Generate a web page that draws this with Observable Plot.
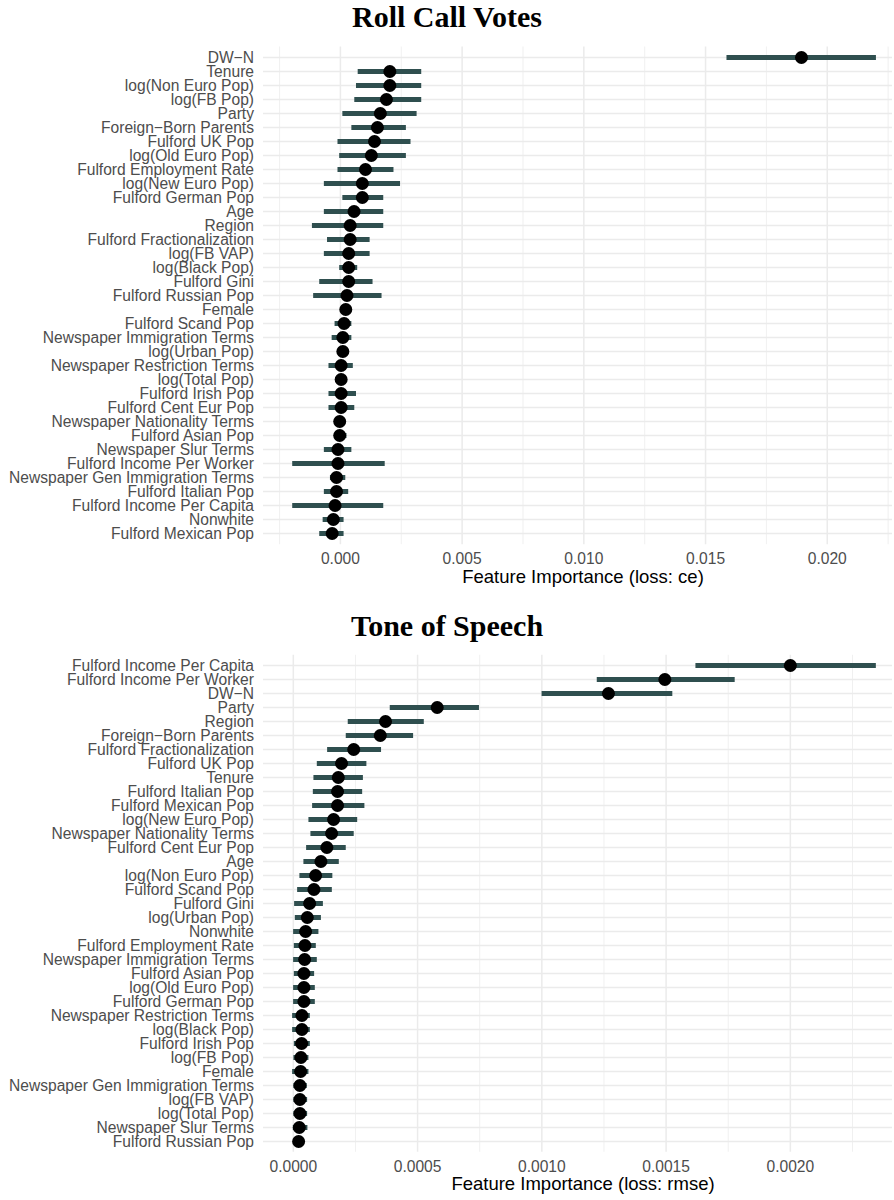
<!DOCTYPE html>
<html>
<head>
<meta charset="utf-8">
<script src="https://cdn.jsdelivr.net/npm/d3@7"></script>
<script src="https://cdn.jsdelivr.net/npm/@observablehq/plot@0.6"></script>
<style>
  html, body { margin: 0; padding: 0; background: #ffffff; }
  #wrap { width: 894px; }
  .title { width: 894px; height: 33px; line-height: 33px; text-align: center;
           font-family: "Liberation Serif", "DejaVu Serif", serif; font-weight: bold;
           font-size: 30px; color: #000; }
  svg { display: block; }
</style>
</head>
<body>
<div id="wrap"></div>
<script>
// ---- Panel 1: Roll Call Votes ----
const rollTitle = "Roll Call Votes";
const rollAxisLabel = "Feature Importance (loss: ce)";
const rollFeatures = ["DW−N","Tenure","log(Non Euro Pop)","log(FB Pop)","Party","Foreign−Born Parents","Fulford UK Pop","log(Old Euro Pop)","Fulford Employment Rate","log(New Euro Pop)","Fulford German Pop","Age","Region","Fulford Fractionalization","log(FB VAP)","log(Black Pop)","Fulford Gini","Fulford Russian Pop","Female","Fulford Scand Pop","Newspaper Immigration Terms","log(Urban Pop)","Newspaper Restriction Terms","log(Total Pop)","Fulford Irish Pop","Fulford Cent Eur Pop","Newspaper Nationality Terms","Fulford Asian Pop","Newspaper Slur Terms","Fulford Income Per Worker","Newspaper Gen Immigration Terms","Fulford Italian Pop","Fulford Income Per Capita","Nonwhite","Fulford Mexican Pop"];
const rollImportance = [0.01894, 0.00203, 0.00203, 0.00189, 0.00164, 0.00152, 0.00140, 0.00127, 0.00103, 0.00090, 0.00090, 0.00056, 0.00040, 0.00040, 0.00034, 0.00034, 0.00034, 0.00027, 0.00022, 0.00015, 0.00010, 0.00010, 0.00003, 0.00003, 0.00003, 0.00003, -0.00003, -0.00003, -0.00010, -0.00010, -0.00016, -0.00016, -0.00022, -0.00029, -0.00034];
const rollLower = [0.01588, 0.00073, 0.00066, 0.00059, 0.00010, 0.00047, -0.00010, -0.00003, -0.00010, -0.00066, 0.00010, -0.00066, -0.00115, -0.00053, -0.00066, -0.00003, -0.00085, -0.00110, 0.00008, -0.00022, -0.00034, -0.00010, -0.00047, -0.00020, -0.00047, -0.00047, -0.00022, -0.00020, -0.00066, -0.00196, -0.00041, -0.00066, -0.00196, -0.00071, -0.00085];
const rollUpper = [0.02202, 0.00334, 0.00334, 0.00334, 0.00315, 0.00271, 0.00290, 0.00271, 0.00220, 0.00247, 0.00178, 0.00178, 0.00178, 0.00122, 0.00122, 0.00071, 0.00134, 0.00171, 0.00035, 0.00047, 0.00047, 0.00027, 0.00053, 0.00025, 0.00066, 0.00059, 0.00022, 0.00027, 0.00047, 0.00184, 0.00022, 0.00034, 0.00178, 0.00015, 0.00015];
const rollTicks = [0, 0.005, 0.010, 0.015, 0.020];
const rollMinorTicks = [-0.0025, 0.0025, 0.0075, 0.0125, 0.0175, 0.0225];
const rollDomain = [-0.00316, 0.02268];

// ---- Panel 2: Tone of Speech ----
const toneTitle = "Tone of Speech";
const toneAxisLabel = "Feature Importance (loss: rmse)";
const toneFeatures = ["Fulford Income Per Capita","Fulford Income Per Worker","DW−N","Party","Region","Foreign−Born Parents","Fulford Fractionalization","Fulford UK Pop","Tenure","Fulford Italian Pop","Fulford Mexican Pop","log(New Euro Pop)","Newspaper Nationality Terms","Fulford Cent Eur Pop","Age","log(Non Euro Pop)","Fulford Scand Pop","Fulford Gini","log(Urban Pop)","Nonwhite","Fulford Employment Rate","Newspaper Immigration Terms","Fulford Asian Pop","log(Old Euro Pop)","Fulford German Pop","Newspaper Restriction Terms","log(Black Pop)","Fulford Irish Pop","log(FB Pop)","Female","Newspaper Gen Immigration Terms","log(FB VAP)","log(Total Pop)","Newspaper Slur Terms","Fulford Russian Pop"];
const toneImportance = [0.002000, 0.001495, 0.001268, 0.000579, 0.000371, 0.000350, 0.000243, 0.000194, 0.000181, 0.000178, 0.000178, 0.000162, 0.000154, 0.000135, 0.000111, 0.0000897, 0.0000829, 0.0000656, 0.0000563, 0.0000495, 0.0000467, 0.0000455, 0.0000426, 0.0000426, 0.0000426, 0.0000346, 0.0000346, 0.0000334, 0.0000306, 0.0000294, 0.0000265, 0.0000265, 0.0000265, 0.0000241, 0.0000213];
const toneLower = [0.001620, 0.001223, 0.001001, 0.000390, 0.000221, 0.000213, 0.000138, 0.0000965, 0.0000829, 0.0000805, 0.0000776, 0.0000628, 0.0000708, 0.0000535, 0.0000426, 0.0000265, 0.0000173, 0.0000052, 0.0000080, 0.0000012, 0.0000040, 0.0000012, 0.0000040, 0.0000012, 0.0000012, -0.0000028, -0.0000028, 0.0000040, 0.0000024, -0.0000028, 0.0000024, 0.0000024, 0.0000024, 0.0000000, 0.0000010];
const toneUpper = [0.002346, 0.001778, 0.001527, 0.000749, 0.000527, 0.000484, 0.000355, 0.000296, 0.000282, 0.000279, 0.000288, 0.000259, 0.000245, 0.000213, 0.000185, 0.000159, 0.000157, 0.000121, 0.000113, 0.000103, 0.0000925, 0.0000965, 0.0000857, 0.0000885, 0.0000885, 0.0000684, 0.0000684, 0.0000684, 0.0000628, 0.0000628, 0.0000563, 0.0000575, 0.0000575, 0.0000587, 0.0000450];
const toneTicks = [0, 0.0005, 0.0010, 0.0015, 0.0020];
const toneMinorTicks = [0.00025, 0.00075, 0.00125, 0.00175, 0.00225];
const toneDomain = [-0.000120, 0.002411];

const grid = "#ebebeb";
const barColor = "#2f4f4f";
const tickColor = "#4d4d4d";

function panel({features, importance, lower, upper, ticks, minor, domain, fmt, label, height, marginTop, marginBottom}) {
  const rows = features.map((f, i) => ({feature: f, v: importance[i], lo: lower[i], hi: upper[i]}));
  return Plot.plot({
    width: 894,
    height,
    marginTop,
    marginBottom,
    marginLeft: 263,
    marginRight: 2,
    style: {fontFamily: "'Liberation Sans', Arial, sans-serif", fontSize: "15.6px", background: "#ffffff", overflow: "visible"},
    x: {domain, ticks, tickFormat: d3.format(fmt), label: null},
    y: {type: "point", domain: features, padding: 0.6, label: null},
    marks: [
      Plot.ruleX(minor, {stroke: grid, strokeWidth: 0.75}),
      Plot.ruleX(ticks, {stroke: grid, strokeWidth: 1.5}),
      Plot.ruleY(features, {stroke: grid, strokeWidth: 1.5}),
      Plot.axisX({ticks, tickFormat: d3.format(fmt), tickSize: 0, tickPadding: 8.5, color: tickColor, label: null}),
      Plot.axisY({tickSize: 0, tickPadding: 9.5, color: tickColor, label: null}),
      Plot.ruleY(rows, {y: "feature", x1: "lo", x2: "hi", stroke: barColor, strokeWidth: 5}),
      Plot.dot(rows, {x: "v", y: "feature", r: 6.5, fill: "#000000", stroke: "none"}),
      Plot.text([label], {text: d => d, frameAnchor: "bottom", dy: 38, dx: 5, fontSize: 18.5, fill: "#000000"})
    ]
  });
}

const wrap = document.getElementById("wrap");
function addTitle(t) {
  const d = document.createElement("div");
  d.className = "title";
  d.textContent = t;
  wrap.appendChild(d);
}

addTitle(rollTitle);
wrap.appendChild(panel({
  features: rollFeatures, importance: rollImportance, lower: rollLower, upper: rollUpper,
  ticks: rollTicks, minor: rollMinorTicks, domain: rollDomain, fmt: ".3f", label: rollAxisLabel,
  height: 576, marginTop: 13.5, marginBottom: 64.8
}));
addTitle(toneTitle);
wrap.appendChild(panel({
  features: toneFeatures, importance: toneImportance, lower: toneLower, upper: toneUpper,
  ticks: toneTicks, minor: toneMinorTicks, domain: toneDomain, fmt: ".4f", label: toneAxisLabel,
  height: 558, marginTop: 12.8, marginBottom: 48.2
}));
</script>
</body>
</html>
